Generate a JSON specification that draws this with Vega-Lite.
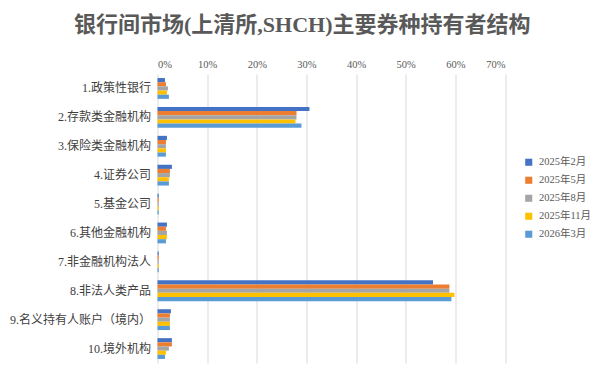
{
  "$schema": "https://vega.github.io/schema/vega-lite/v6.json",
  "width": 347.5,
  "height": 289,
  "autosize": {"type": "none"},
  "padding": {"left": 157.5, "top": 74, "right": 100, "bottom": 15},
  "background": "white",
  "title": {
    "text": "银行间市场(上清所,SHCH)主要券种持有者结构",
    "font": "'Liberation Serif', 'Noto Sans CJK SC', serif",
    "fontSize": 22,
    "fontWeight": "bold",
    "color": "#595959",
    "anchor": "middle",
    "dx": -29,
    "offset": 22
  },
  "config": {
    "view": {"stroke": null},
    "font": "'Liberation Serif', 'Noto Sans CJK SC', serif"
  },
  "datasets": {
    "rows": [
      {"cat": "1.政策性银行", "period": "2025年2月", "v": 0.015},
      {"cat": "1.政策性银行", "period": "2025年5月", "v": 0.017},
      {"cat": "1.政策性银行", "period": "2025年8月", "v": 0.021},
      {"cat": "1.政策性银行", "period": "2025年11月", "v": 0.019},
      {"cat": "1.政策性银行", "period": "2026年3月", "v": 0.023},
      {"cat": "2.存款类金融机构", "period": "2025年2月", "v": 0.306},
      {"cat": "2.存款类金融机构", "period": "2025年5月", "v": 0.280},
      {"cat": "2.存款类金融机构", "period": "2025年8月", "v": 0.280},
      {"cat": "2.存款类金融机构", "period": "2025年11月", "v": 0.278},
      {"cat": "2.存款类金融机构", "period": "2026年3月", "v": 0.290},
      {"cat": "3.保险类金融机构", "period": "2025年2月", "v": 0.019},
      {"cat": "3.保险类金融机构", "period": "2025年5月", "v": 0.017},
      {"cat": "3.保险类金融机构", "period": "2025年8月", "v": 0.017},
      {"cat": "3.保险类金融机构", "period": "2025年11月", "v": 0.017},
      {"cat": "3.保险类金融机构", "period": "2026年3月", "v": 0.017},
      {"cat": "4.证券公司", "period": "2025年2月", "v": 0.029},
      {"cat": "4.证券公司", "period": "2025年5月", "v": 0.025},
      {"cat": "4.证券公司", "period": "2025年8月", "v": 0.025},
      {"cat": "4.证券公司", "period": "2025年11月", "v": 0.023},
      {"cat": "4.证券公司", "period": "2026年3月", "v": 0.023},
      {"cat": "5.基金公司", "period": "2025年2月", "v": 0.0025},
      {"cat": "5.基金公司", "period": "2025年5月", "v": 0.0025},
      {"cat": "5.基金公司", "period": "2025年8月", "v": 0.0025},
      {"cat": "5.基金公司", "period": "2025年11月", "v": 0.0025},
      {"cat": "5.基金公司", "period": "2026年3月", "v": 0.0025},
      {"cat": "6.其他金融机构", "period": "2025年2月", "v": 0.019},
      {"cat": "6.其他金融机构", "period": "2025年5月", "v": 0.017},
      {"cat": "6.其他金融机构", "period": "2025年8月", "v": 0.019},
      {"cat": "6.其他金融机构", "period": "2025年11月", "v": 0.019},
      {"cat": "6.其他金融机构", "period": "2026年3月", "v": 0.017},
      {"cat": "7.非金融机构法人", "period": "2025年2月", "v": 0.0025},
      {"cat": "7.非金融机构法人", "period": "2025年5月", "v": 0.0025},
      {"cat": "7.非金融机构法人", "period": "2025年8月", "v": 0.0025},
      {"cat": "7.非金融机构法人", "period": "2025年11月", "v": 0.0025},
      {"cat": "7.非金融机构法人", "period": "2026年3月", "v": 0.0025},
      {"cat": "8.非法人类产品", "period": "2025年2月", "v": 0.555},
      {"cat": "8.非法人类产品", "period": "2025年5月", "v": 0.588},
      {"cat": "8.非法人类产品", "period": "2025年8月", "v": 0.588},
      {"cat": "8.非法人类产品", "period": "2025年11月", "v": 0.598},
      {"cat": "8.非法人类产品", "period": "2026年3月", "v": 0.592},
      {"cat": "9.名义持有人账户（境内）", "period": "2025年2月", "v": 0.027},
      {"cat": "9.名义持有人账户（境内）", "period": "2025年5月", "v": 0.025},
      {"cat": "9.名义持有人账户（境内）", "period": "2025年8月", "v": 0.025},
      {"cat": "9.名义持有人账户（境内）", "period": "2025年11月", "v": 0.025},
      {"cat": "9.名义持有人账户（境内）", "period": "2026年3月", "v": 0.025},
      {"cat": "10.境外机构", "period": "2025年2月", "v": 0.029},
      {"cat": "10.境外机构", "period": "2025年5月", "v": 0.029},
      {"cat": "10.境外机构", "period": "2025年8月", "v": 0.023},
      {"cat": "10.境外机构", "period": "2025年11月", "v": 0.017},
      {"cat": "10.境外机构", "period": "2026年3月", "v": 0.015}
    ]
  },
  "data": {"name": "rows"},
  "mark": {"type": "bar"},
  "encoding": {
    "y": {
      "field": "cat",
      "type": "nominal",
      "sort": null,
      "scale": {"paddingInner": 0.28, "paddingOuter": 0.14},
      "axis": {
        "title": null,
        "domain": false,
        "ticks": false,
        "labelPadding": 7,
        "labelFontSize": 12,
        "labelColor": "#404040",
        "labelLimit": 200
      }
    },
    "yOffset": {
      "field": "period",
      "type": "nominal",
      "sort": null,
      "scale": {"paddingInner": 0, "paddingOuter": 0}
    },
    "x": {
      "field": "v",
      "type": "quantitative",
      "scale": {"domain": [0, 0.7], "nice": false},
      "axis": {
        "orient": "top",
        "title": null,
        "format": ".0%",
        "values": [0, 0.1, 0.2, 0.3, 0.4, 0.5, 0.6, 0.7],
        "domain": false,
        "ticks": false,
        "labelPadding": 5,
        "labelFontSize": 10.5,
        "labelColor": "#595959",
        "gridColor": "#D9D9D9",
        "gridWidth": 1
      }
    },
    "color": {
      "field": "period",
      "type": "nominal",
      "sort": null,
      "scale": {
        "domain": ["2025年2月", "2025年5月", "2025年8月", "2025年11月", "2026年3月"],
        "range": ["#4472C4", "#ED7D31", "#A5A5A5", "#FFC000", "#5B9BD5"]
      },
      "legend": {
        "title": null,
        "orient": "none",
        "legendX": 366,
        "legendY": 83,
        "symbolType": "square",
        "symbolSize": 50,
        "symbolStrokeWidth": 0,
        "labelFontSize": 10.5,
        "labelColor": "#595959",
        "rowPadding": 7,
        "labelOffset": 5
      }
    }
  }
}
